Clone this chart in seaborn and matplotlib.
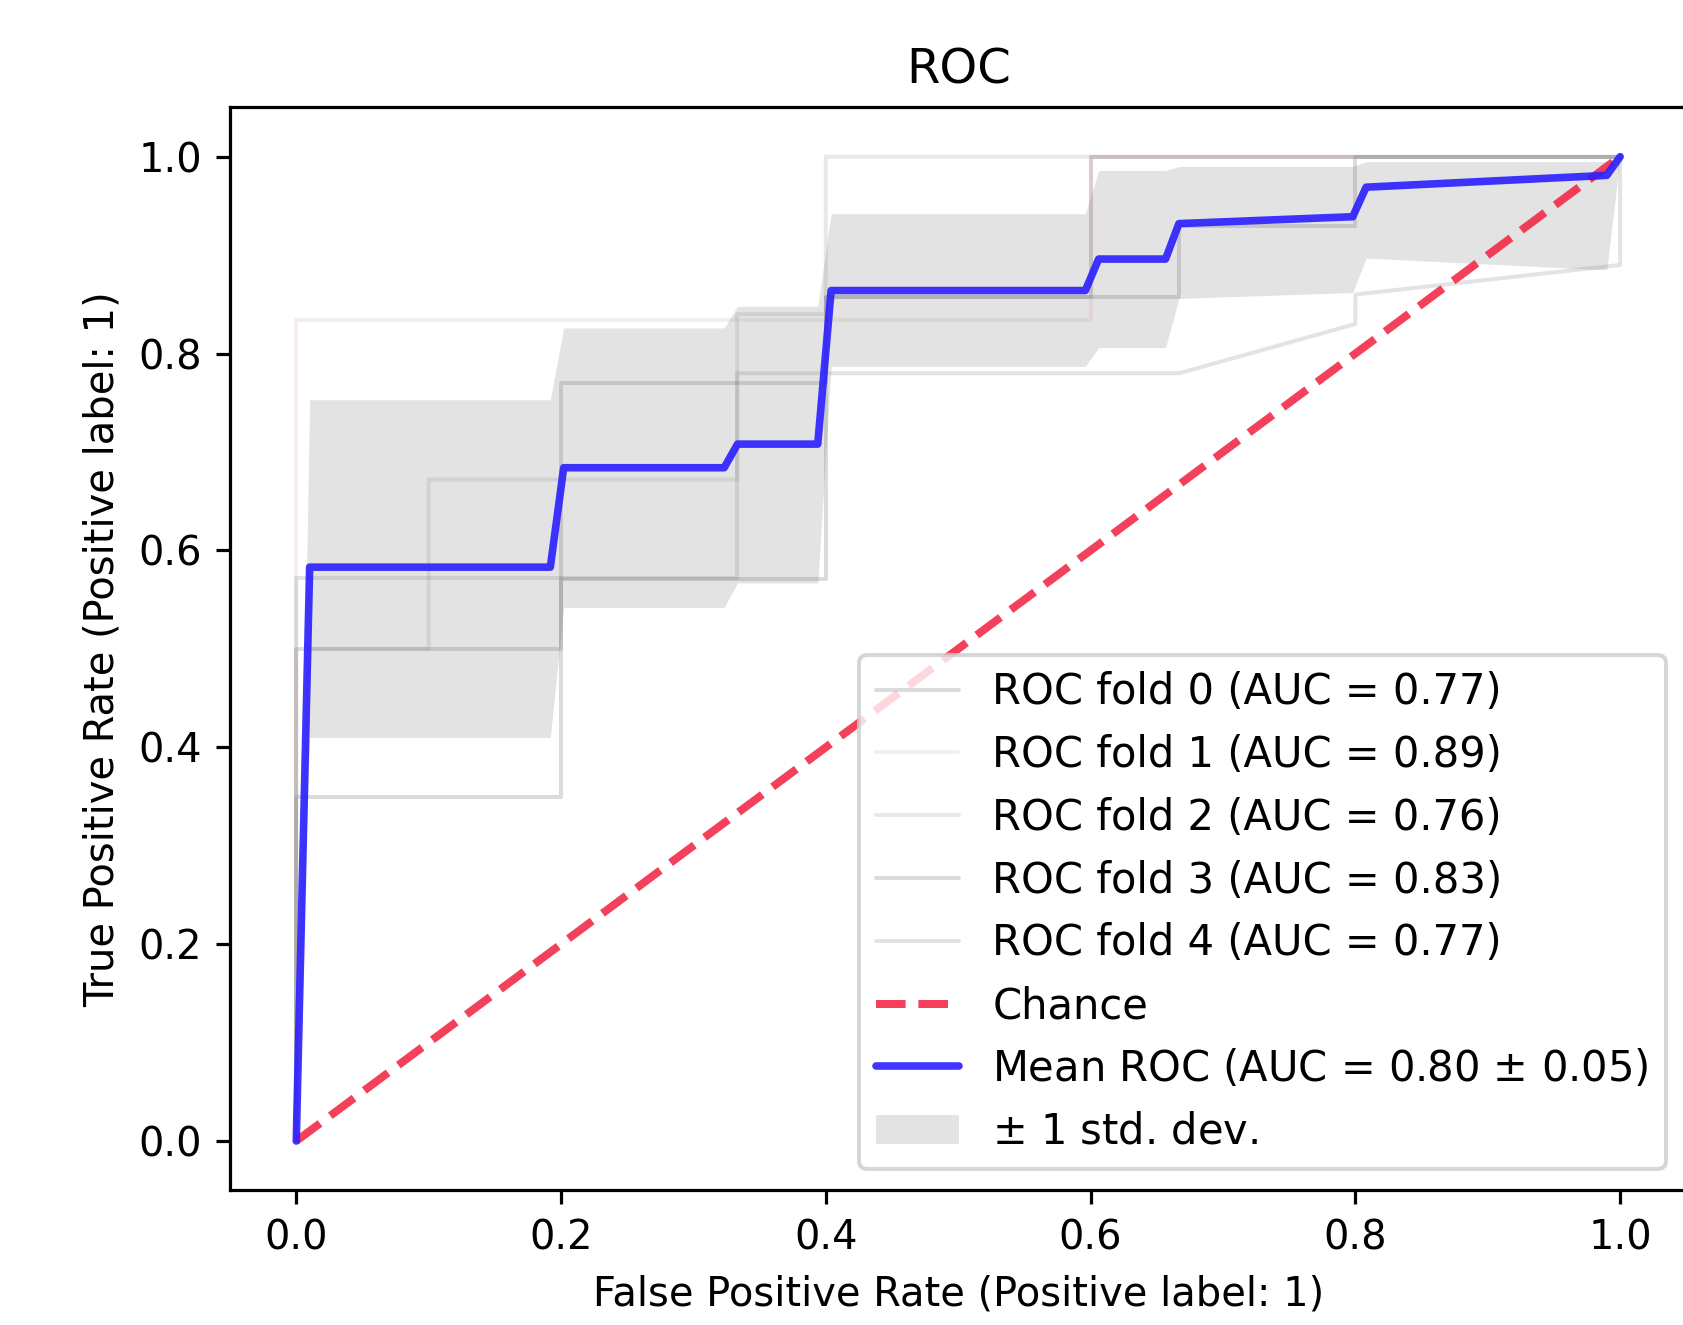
import numpy as np
import pandas as pd
import matplotlib
matplotlib.use("Agg")
import matplotlib.pyplot as plt
import seaborn as sns

# Per-fold ROC curves (false positive rate, true positive rate)
fold_fpr = [
    [0.0, 0.0, 0.2, 0.2, 0.4, 0.4, 0.6, 0.6, 1.0],
    [0.0, 0.0, 0.6, 0.6, 1.0],
    [0.0, 0.01, 0.1, 0.1, 0.333, 0.333, 0.4, 0.4, 1.0],
    [0.0, 0.0, 0.2, 0.2, 0.4, 0.4, 0.667, 0.667, 0.8, 0.8, 1.0],
    [0.0, 0.0, 0.333, 0.333, 0.667, 0.8, 0.8, 1.0, 1.0],
]
fold_tpr = [
    [0.0, 0.5, 0.5, 0.571, 0.571, 0.857, 0.857, 1.0, 1.0],
    [0.0, 0.834, 0.834, 1.0, 1.0],
    [0.0, 0.5, 0.5, 0.672, 0.672, 0.84, 0.84, 1.0, 1.0],
    [0.0, 0.35, 0.35, 0.77, 0.77, 0.857, 0.857, 0.93, 0.93, 1.0, 1.0],
    [0.0, 0.572, 0.572, 0.78, 0.78, 0.83, 0.86, 0.89, 1.0],
]
fold_auc = [0.77, 0.89, 0.76, 0.83, 0.77]

# Mean ROC and its +/- 1 std band
mean_fpr = [0.0, 0.0101, 0.1919, 0.2020, 0.3232, 0.3333, 0.3939, 0.4040,
            0.5960, 0.6061, 0.6566, 0.6667, 0.7980, 0.8081, 0.9899, 1.0]
mean_tpr = [0.0, 0.583, 0.583, 0.684, 0.684, 0.708, 0.708, 0.864,
            0.864, 0.896, 0.896, 0.932, 0.939, 0.969, 0.981, 1.0]
tpr_upper = [0.0, 0.753, 0.753, 0.826, 0.826, 0.848, 0.848, 0.942,
             0.942, 0.986, 0.986, 0.99, 0.99, 0.995, 0.995, 1.0]
tpr_lower = [0.0, 0.41, 0.41, 0.542, 0.542, 0.567, 0.567, 0.787,
             0.787, 0.806, 0.806, 0.856, 0.862, 0.897, 0.885, 1.0]
mean_auc = 0.80
std_auc = 0.05

chance_fpr = [0.0, 1.0]
chance_tpr = [0.0, 1.0]

sns.set_style("ticks")
plt.rcParams.update({
    "font.family": ["DejaVu Sans"],
    "font.size": 10,
    "axes.titlesize": 12,
    "axes.labelsize": 10,
    "xtick.labelsize": 10,
    "ytick.labelsize": 10,
    "legend.fontsize": 10.4,
    "axes.edgecolor": "black",
    "axes.linewidth": 0.8,
    "xtick.color": "black",
    "ytick.color": "black",
    "text.color": "black",
    "axes.labelcolor": "black",
    "xtick.major.size": 3.5,
    "ytick.major.size": 3.5,
    "xtick.major.width": 0.8,
    "ytick.major.width": 0.8,
    "axes.spines.right": True,
    "axes.spines.top": True,
})

fig = plt.figure(figsize=(1683 / 288, 1325 / 288), dpi=288)
ax = fig.add_axes([0.1367, 0.1017, 1.002 - 0.1367, 0.9189 - 0.1017])

fold_colors = ["0.45", "#c98a8a", "0.55", "0.45", "0.5"]
fold_alpha = [0.25, 0.15, 0.2, 0.25, 0.22]
for i, (fx, fy) in enumerate(zip(fold_fpr, fold_tpr)):
    df = pd.DataFrame({"fpr": fx, "tpr": fy})
    sns.lineplot(data=df, x="fpr", y="tpr", ax=ax, sort=False, estimator=None,
                 color=fold_colors[i], alpha=fold_alpha[i], lw=1,
                 label=f"ROC fold {i} (AUC = {fold_auc[i]:.2f})")

chance_df = pd.DataFrame({"fpr": chance_fpr, "tpr": chance_tpr})
sns.lineplot(data=chance_df, x="fpr", y="tpr", ax=ax, sort=False, estimator=None,
             color="#f2203f", alpha=0.85, lw=2, linestyle="--", label="Chance")

mean_df = pd.DataFrame({"fpr": mean_fpr, "tpr": mean_tpr})
sns.lineplot(data=mean_df, x="fpr", y="tpr", ax=ax, sort=False, estimator=None,
             color="#2a1fff", alpha=0.9, lw=1.9,
             label=f"Mean ROC (AUC = {mean_auc:.2f} $\\pm$ {std_auc:.2f})")

ax.fill_between(mean_fpr, tpr_lower, tpr_upper, color="grey", alpha=0.22,
                lw=0, label=r"$\pm$ 1 std. dev.")

ax.set_xlim(-0.05, 1.05)
ax.set_ylim(-0.05, 1.05)
ax.set_xticks([0.0, 0.2, 0.4, 0.6, 0.8, 1.0])
ax.set_yticks([0.0, 0.2, 0.4, 0.6, 0.8, 1.0])
ax.set_xlabel("False Positive Rate (Positive label: 1)")
ax.set_ylabel("True Positive Rate (Positive label: 1)")
ax.set_title("ROC")
ax.legend(loc="lower right")

fig.savefig("out.png", dpi=288)
